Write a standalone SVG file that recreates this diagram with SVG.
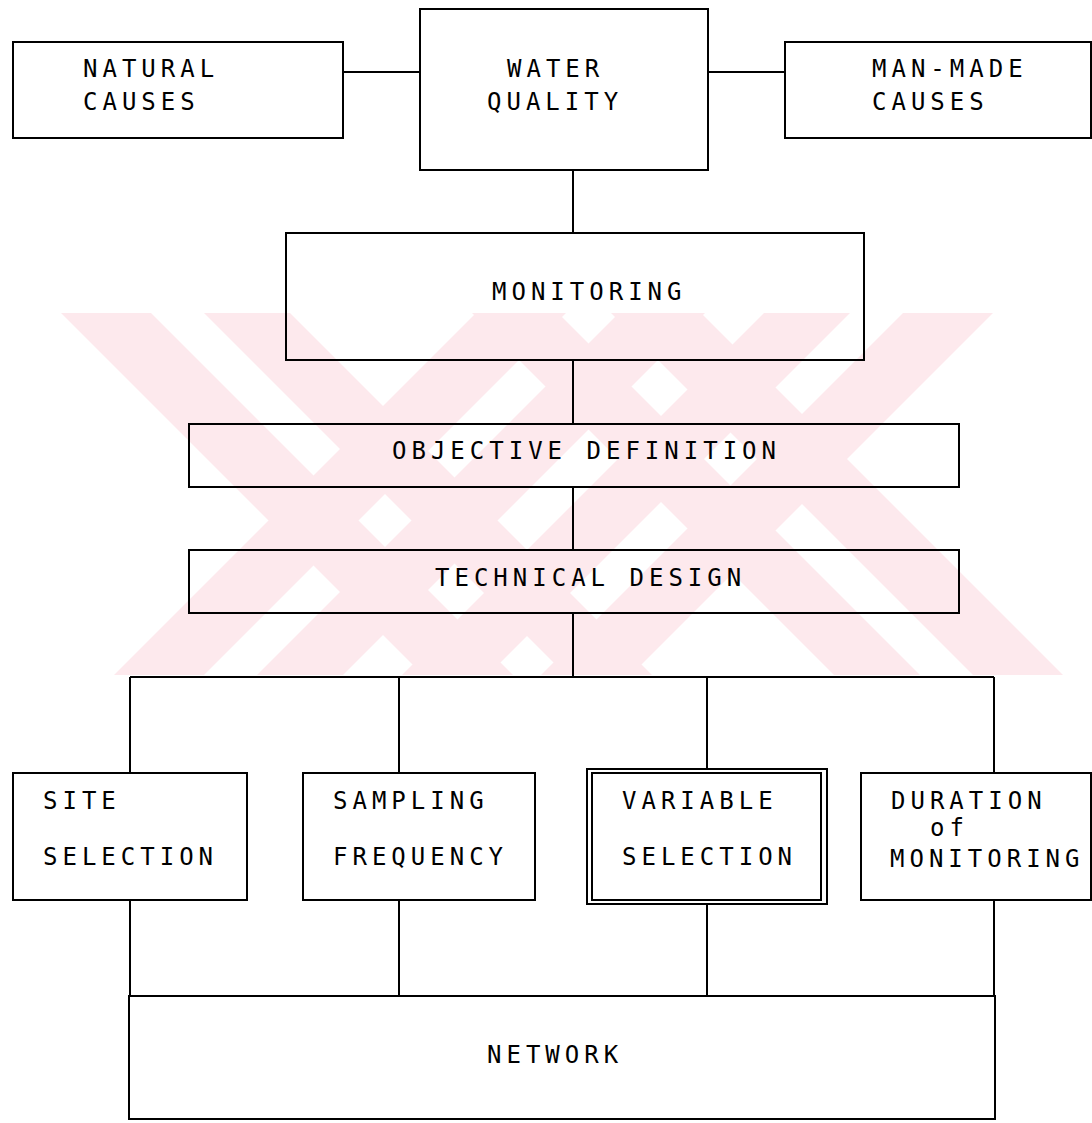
<svg xmlns="http://www.w3.org/2000/svg" width="1092" height="1123" viewBox="0 0 1092 1123">
<style>
.box{fill:none;stroke:#000;stroke-width:2}
.ln{fill:none;stroke:#000;stroke-width:2}
.t{font-family:"DejaVu Sans Mono","Liberation Mono",monospace;font-size:24px;letter-spacing:5px;fill:#000}
.wm{fill:#fde9ed}
</style>
<rect width="1092" height="1123" fill="#fff"/>
<g id="watermark">
<polygon class="wm" points="61,313 151,313 513,675 423,675"/>
<polygon class="wm" points="204,313 290,313 652,675 566,675"/>
<polygon class="wm" points="476,313 566,313 204,675 114,675"/>
<polygon class="wm" points="619,313 705,313 343,675 257,675"/>
<polygon class="wm" points="764,313 850,313 488,675 402,675"/>
<polygon class="wm" points="903,313 993,313 631,675 541,675"/>
<polygon class="wm" points="472,313 558,313 920,675 834,675"/>
<polygon class="wm" points="611,313 701,313 1063,675 973,675"/>
</g>
<g id="connectors">
<path class="ln" d="M343,72 H420 M708,72 H785 M573,170 V233 M573,360 V424 M573,487 V550 M573,613 V677 M130,677 H994 M130,677 V773 M399,677 V773 M707,677 V769 M994,677 V773 M130,900 V996 M399,900 V996 M707,904 V996 M994,900 V996"/>
</g>
<g id="natural-causes">
<rect class="box" x="13" y="42" width="330" height="96"/>
<text class="t" x="83" y="77">NATURAL</text>
<text class="t" x="83" y="110">CAUSES</text>
</g>
<g id="water-quality">
<rect class="box" x="420" y="9" width="288" height="161"/>
<text class="t" x="507" y="77">WATER</text>
<text class="t" x="487" y="110">QUALITY</text>
</g>
<g id="man-made-causes">
<rect class="box" x="785" y="42" width="306" height="96"/>
<text class="t" x="872" y="77">MAN-MADE</text>
<text class="t" x="872" y="110">CAUSES</text>
</g>
<g id="monitoring">
<rect class="box" x="286" y="233" width="578" height="127"/>
<text class="t" x="492" y="300">MONITORING</text>
</g>
<g id="objective-definition">
<rect class="box" x="189" y="424" width="770" height="63"/>
<text class="t" x="392" y="459">OBJECTIVE DEFINITION</text>
</g>
<g id="technical-design">
<rect class="box" x="189" y="550" width="770" height="63"/>
<text class="t" x="435" y="586">TECHNICAL DESIGN</text>
</g>
<g id="site-selection">
<rect class="box" x="13" y="773" width="234" height="127"/>
<text class="t" x="43" y="809">SITE</text>
<text class="t" x="43" y="865">SELECTION</text>
</g>
<g id="sampling-frequency">
<rect class="box" x="303" y="773" width="232" height="127"/>
<text class="t" x="333" y="809">SAMPLING</text>
<text class="t" x="333" y="865">FREQUENCY</text>
</g>
<g id="variable-selection">
<rect class="box" x="587" y="769" width="240" height="135"/>
<rect class="box" x="592" y="773" width="229" height="127"/>
<text class="t" x="622" y="809">VARIABLE</text>
<text class="t" x="622" y="865">SELECTION</text>
</g>
<g id="duration-of-monitoring">
<rect class="box" x="861" y="773" width="230" height="127"/>
<text class="t" x="891" y="809">DURATION</text>
<text class="t" x="930" y="836">of</text>
<text class="t" x="890" y="867">MONITORING</text>
</g>
<g id="network">
<rect class="box" x="129" y="996" width="866" height="123"/>
<text class="t" x="487" y="1063">NETWORK</text>
</g>
</svg>
